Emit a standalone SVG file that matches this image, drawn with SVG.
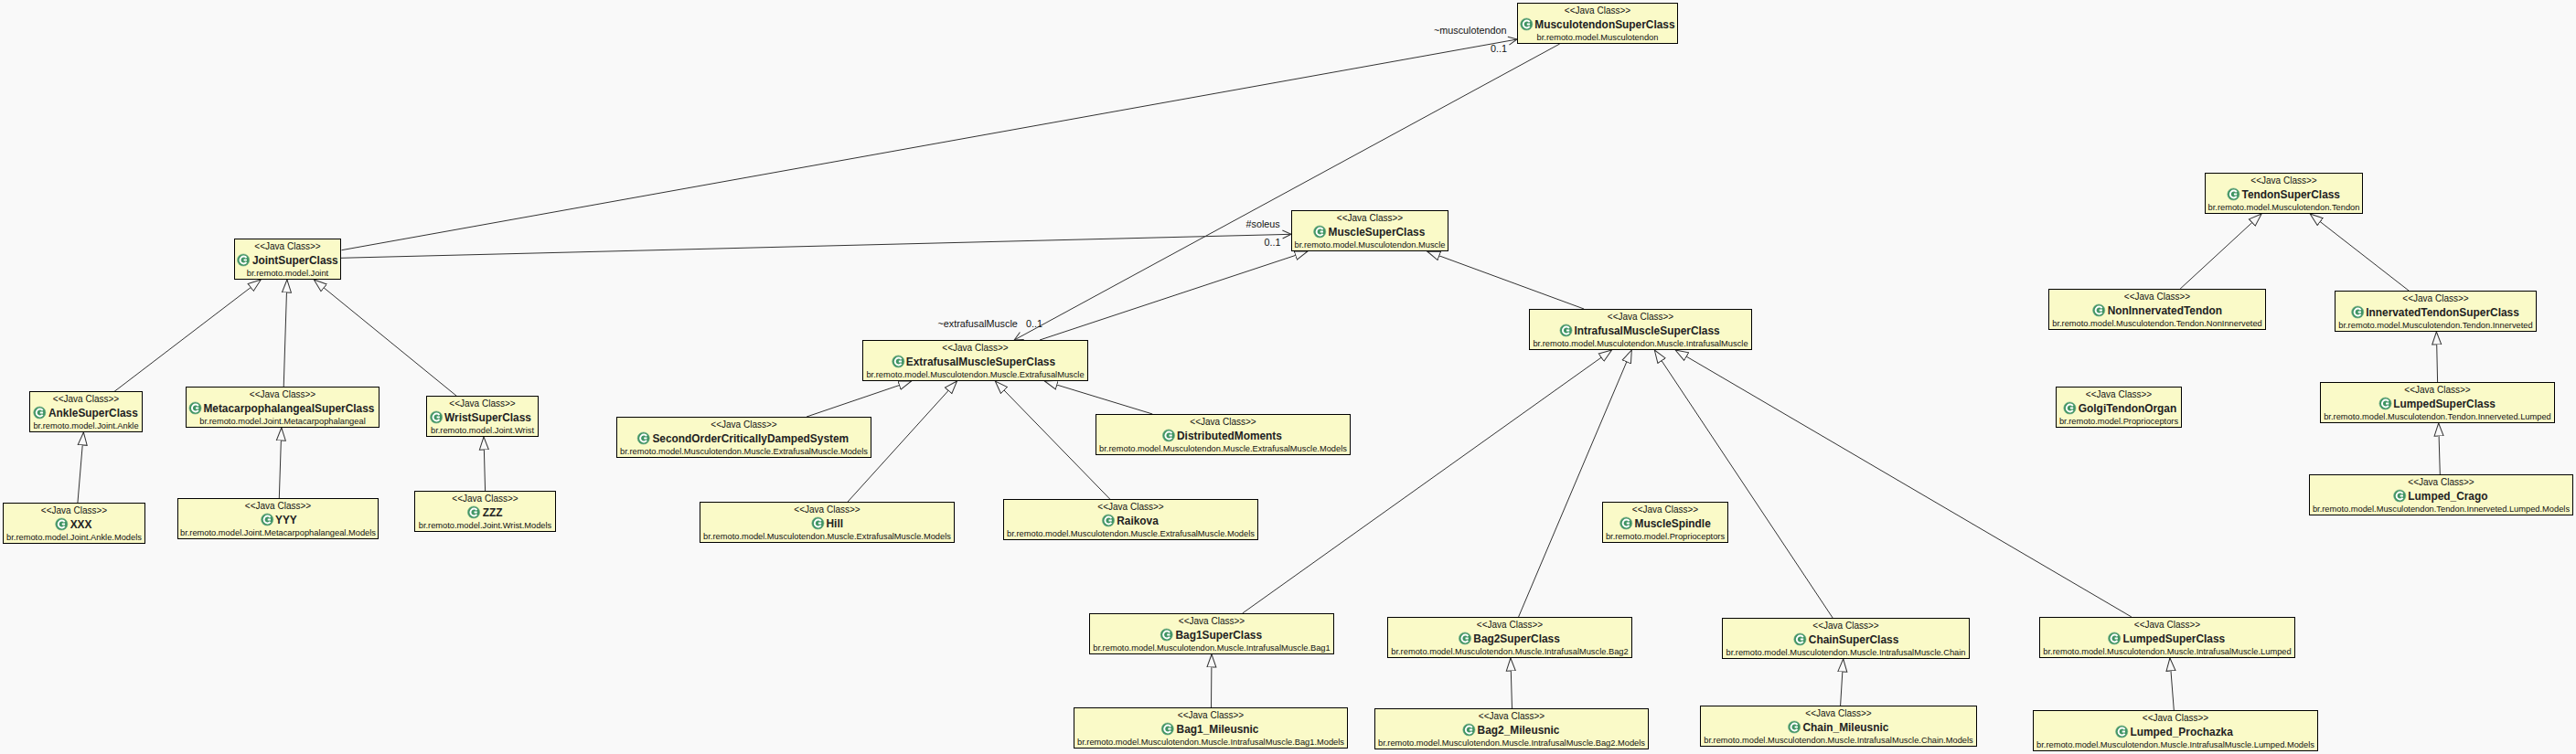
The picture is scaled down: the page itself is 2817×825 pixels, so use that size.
<svg xmlns="http://www.w3.org/2000/svg" width="2817" height="825" viewBox="0 0 2817 825">
<style>
.b{fill:#fafac8;stroke:#000;stroke-width:1}
.s,.p,.l{font-family:"Liberation Sans",Arial,sans-serif;fill:#111}
.s{font-size:10px;text-anchor:middle}
.p{font-size:9.3px;text-anchor:middle}
.n{font-family:"Liberation Sans",Arial,sans-serif;font-size:11.9px;font-weight:bold;fill:#222}
.l{font-size:10.8px}
.g{fill:none;stroke:#333;stroke-width:1;marker-end:url(#tri)}
.a{fill:none;stroke:#333;stroke-width:1;marker-end:url(#open)}
</style>
<defs>
<marker id="tri" markerUnits="userSpaceOnUse" markerWidth="16" markerHeight="14" refX="14.5" refY="6" orient="auto"><path d="M14.5 6L.5 1V11Z" fill="#f9f9f9" stroke="#333" stroke-width="1"/></marker>
<marker id="open" markerUnits="userSpaceOnUse" markerWidth="12" markerHeight="12" refX="10" refY="6" orient="auto"><path d="M.5 1.5L10 6L.5 10.5" fill="none" stroke="#333" stroke-width="1"/></marker>
<g id="ic"><circle r="6.6" fill="#3f9463" stroke="#79ae8c" stroke-width=".6"/><path d="M3.4-2.4A3.9 3.9 0 1 0 3.4 2.4M.5 0H3.8" fill="none" stroke="#fff" stroke-width="2"/></g>
</defs>
<rect width="2817" height="825" fill="#f9f9f9"/>
<g id="connectors">
<path class="a" d="M373.5 273.7L1659 43"/>
<path class="a" d="M372.7 282.3L1412 256.3"/>
<path class="a" d="M1705.7 48L1109.2 372"/>
<path class="g" d="M1137 372L1430 275"/>
<path class="g" d="M124.9 428.5L285.3 306"/>
<path class="g" d="M310.2 423.5L313.9 306"/>
<path class="g" d="M499.6 433.5L343.3 306"/>
<path class="g" d="M84.9 550.5L91.4 473"/>
<path class="g" d="M305.3 545.5L307.8 468"/>
<path class="g" d="M530.6 537.5L529 478"/>
<path class="g" d="M882.1 456L996.7 417"/>
<path class="g" d="M926.6 549.5L1046.5 417"/>
<path class="g" d="M1214.2 546.5L1088.3 417"/>
<path class="g" d="M1260.3 453L1142.4 417"/>
<path class="g" d="M1732.1 338L1560.7 275"/>
<path class="g" d="M1358.7 671L1762.5 383"/>
<path class="g" d="M1660.6 675L1784.3 383"/>
<path class="g" d="M2004.1 676L1809.3 383"/>
<path class="g" d="M2330.9 675L1832.1 383"/>
<path class="g" d="M1324.5 774L1325 716"/>
<path class="g" d="M1653.5 775L1651.9 720"/>
<path class="g" d="M2012.6 772L2015.7 721"/>
<path class="g" d="M2377.3 777L2372.9 720"/>
<path class="g" d="M2384.2 316L2473.1 234"/>
<path class="g" d="M2634.1 318L2526.2 234"/>
<path class="g" d="M2665.6 418L2664.4 363"/>
<path class="g" d="M2668.3 519L2666.7 463"/>
<text class="l" x="1568" y="37">~musculotendon</text>
<text class="l" x="1630" y="57">0..1</text>
<text class="l" x="1362.5" y="249">#soleus</text>
<text class="l" x="1382.5" y="269">0..1</text>
<text class="l" x="1025.5" y="358">~extrafusalMuscle</text>
<text class="l" x="1122" y="358">0..1</text>
</g>
<g id="MusculotendonSuperClass" transform="translate(1659.5 3.5)"><rect class="b" width="175" height="44"/><text class="s" x="87.5" y="11">&lt;&lt;Java Class&gt;&gt;</text><use href="#ic" x="9.8" y="23"/><text class="n" x="18.8" y="27">MusculotendonSuperClass</text><text class="p" x="87.5" y="40">br.remoto.model.Musculotendon</text></g>
<g id="MuscleSuperClass" transform="translate(1412.5 230.5)"><rect class="b" width="171" height="44"/><text class="s" x="85.5" y="11">&lt;&lt;Java Class&gt;&gt;</text><use href="#ic" x="30.7" y="23"/><text class="n" x="40" y="27">MuscleSuperClass</text><text class="p" x="85.5" y="40">br.remoto.model.Musculotendon.Muscle</text></g>
<g id="JointSuperClass" transform="translate(256.5 261.5)"><rect class="b" width="116" height="44"/><text class="s" x="58" y="11">&lt;&lt;Java Class&gt;&gt;</text><use href="#ic" x="9.6" y="23"/><text class="n" x="19.4" y="27">JointSuperClass</text><text class="p" x="58" y="40">br.remoto.model.Joint</text></g>
<g id="AnkleSuperClass" transform="translate(32.5 428.5)"><rect class="b" width="123" height="44"/><text class="s" x="61.5" y="11">&lt;&lt;Java Class&gt;&gt;</text><use href="#ic" x="10.8" y="23"/><text class="n" x="20.5" y="27">AnkleSuperClass</text><text class="p" x="61.5" y="40">br.remoto.model.Joint.Ankle</text></g>
<g id="MetacarpophalangealSuperClass" transform="translate(203.5 423.5)"><rect class="b" width="211" height="44"/><text class="s" x="105.5" y="11">&lt;&lt;Java Class&gt;&gt;</text><use href="#ic" x="10" y="23"/><text class="n" x="18.9" y="27">MetacarpophalangealSuperClass</text><text class="p" x="105.5" y="40">br.remoto.model.Joint.Metacarpophalangeal</text></g>
<g id="WristSuperClass" transform="translate(466.5 433.5)"><rect class="b" width="122" height="44"/><text class="s" x="61" y="11">&lt;&lt;Java Class&gt;&gt;</text><use href="#ic" x="10.6" y="23"/><text class="n" x="19.5" y="27">WristSuperClass</text><text class="p" x="61" y="40">br.remoto.model.Joint.Wrist</text></g>
<g id="XXX" transform="translate(3.5 550.5)"><rect class="b" width="155" height="44"/><text class="s" x="77.5" y="11">&lt;&lt;Java Class&gt;&gt;</text><use href="#ic" x="63.8" y="23"/><text class="n" x="73.2" y="27">XXX</text><text class="p" x="77.5" y="40">br.remoto.model.Joint.Ankle.Models</text></g>
<g id="YYY" transform="translate(194.5 545.5)"><rect class="b" width="219" height="44"/><text class="s" x="109.5" y="11">&lt;&lt;Java Class&gt;&gt;</text><use href="#ic" x="97.7" y="23"/><text class="n" x="106.5" y="27">YYY</text><text class="p" x="109.5" y="40">br.remoto.model.Joint.Metacarpophalangeal.Models</text></g>
<g id="ZZZ" transform="translate(453.5 537.5)"><rect class="b" width="154" height="44"/><text class="s" x="77" y="11">&lt;&lt;Java Class&gt;&gt;</text><use href="#ic" x="64.5" y="23"/><text class="n" x="74.3" y="27">ZZZ</text><text class="p" x="77" y="40">br.remoto.model.Joint.Wrist.Models</text></g>
<g id="ExtrafusalMuscleSuperClass" transform="translate(943.5 372.5)"><rect class="b" width="246" height="44"/><text class="s" x="123" y="11">&lt;&lt;Java Class&gt;&gt;</text><use href="#ic" x="38.8" y="23"/><text class="n" x="47.3" y="27">ExtrafusalMuscleSuperClass</text><text class="p" x="123" y="40">br.remoto.model.Musculotendon.Muscle.ExtrafusalMuscle</text></g>
<g id="SecondOrderCriticallyDampedSystem" transform="translate(674.5 456.5)"><rect class="b" width="278" height="44"/><text class="s" x="139" y="11">&lt;&lt;Java Class&gt;&gt;</text><use href="#ic" x="29.2" y="23"/><text class="n" x="38.9" y="27">SecondOrderCriticallyDampedSystem</text><text class="p" x="139" y="40">br.remoto.model.Musculotendon.Muscle.ExtrafusalMuscle.Models</text></g>
<g id="Hill" transform="translate(765.5 549.5)"><rect class="b" width="278" height="44"/><text class="s" x="139" y="11">&lt;&lt;Java Class&gt;&gt;</text><use href="#ic" x="128.9" y="23"/><text class="n" x="138" y="27">Hill</text><text class="p" x="139" y="40">br.remoto.model.Musculotendon.Muscle.ExtrafusalMuscle.Models</text></g>
<g id="Raikova" transform="translate(1097.5 546.5)"><rect class="b" width="278" height="44"/><text class="s" x="139" y="11">&lt;&lt;Java Class&gt;&gt;</text><use href="#ic" x="114.5" y="23"/><text class="n" x="123.7" y="27">Raikova</text><text class="p" x="139" y="40">br.remoto.model.Musculotendon.Muscle.ExtrafusalMuscle.Models</text></g>
<g id="DistributedMoments" transform="translate(1198.5 453.5)"><rect class="b" width="278" height="44"/><text class="s" x="139" y="11">&lt;&lt;Java Class&gt;&gt;</text><use href="#ic" x="79.5" y="23"/><text class="n" x="88.5" y="27">DistributedMoments</text><text class="p" x="139" y="40">br.remoto.model.Musculotendon.Muscle.ExtrafusalMuscle.Models</text></g>
<g id="IntrafusalMuscleSuperClass" transform="translate(1672.5 338.5)"><rect class="b" width="243" height="44"/><text class="s" x="121.5" y="11">&lt;&lt;Java Class&gt;&gt;</text><use href="#ic" x="40" y="23"/><text class="n" x="48.9" y="27">IntrafusalMuscleSuperClass</text><text class="p" x="121.5" y="40">br.remoto.model.Musculotendon.Muscle.IntrafusalMuscle</text></g>
<g id="MuscleSpindle" transform="translate(1752.5 549.5)"><rect class="b" width="137" height="44"/><text class="s" x="68.5" y="11">&lt;&lt;Java Class&gt;&gt;</text><use href="#ic" x="25.7" y="23"/><text class="n" x="35" y="27">MuscleSpindle</text><text class="p" x="68.5" y="40">br.remoto.model.Proprioceptors</text></g>
<g id="Bag1SuperClass" transform="translate(1191.5 671.5)"><rect class="b" width="267" height="44"/><text class="s" x="133.5" y="11">&lt;&lt;Java Class&gt;&gt;</text><use href="#ic" x="84.2" y="23"/><text class="n" x="94" y="27">Bag1SuperClass</text><text class="p" x="133.5" y="40">br.remoto.model.Musculotendon.Muscle.IntrafusalMuscle.Bag1</text></g>
<g id="Bag2SuperClass" transform="translate(1517.5 675.5)"><rect class="b" width="267" height="44"/><text class="s" x="133.5" y="11">&lt;&lt;Java Class&gt;&gt;</text><use href="#ic" x="84.5" y="23"/><text class="n" x="93.8" y="27">Bag2SuperClass</text><text class="p" x="133.5" y="40">br.remoto.model.Musculotendon.Muscle.IntrafusalMuscle.Bag2</text></g>
<g id="Bag1_Mileusnic" transform="translate(1174.5 774.5)"><rect class="b" width="299" height="44"/><text class="s" x="149.5" y="11">&lt;&lt;Java Class&gt;&gt;</text><use href="#ic" x="102.3" y="23"/><text class="n" x="112.1" y="27">Bag1_Mileusnic</text><text class="p" x="149.5" y="40">br.remoto.model.Musculotendon.Muscle.IntrafusalMuscle.Bag1.Models</text></g>
<g id="Bag2_Mileusnic" transform="translate(1503.5 775.5)"><rect class="b" width="299" height="44"/><text class="s" x="149.5" y="11">&lt;&lt;Java Class&gt;&gt;</text><use href="#ic" x="102.9" y="23"/><text class="n" x="112.1" y="27">Bag2_Mileusnic</text><text class="p" x="149.5" y="40">br.remoto.model.Musculotendon.Muscle.IntrafusalMuscle.Bag2.Models</text></g>
<g id="ChainSuperClass" transform="translate(1883.5 676.5)"><rect class="b" width="270" height="44"/><text class="s" x="135" y="11">&lt;&lt;Java Class&gt;&gt;</text><use href="#ic" x="84.9" y="23"/><text class="n" x="94.3" y="27">ChainSuperClass</text><text class="p" x="135" y="40">br.remoto.model.Musculotendon.Muscle.IntrafusalMuscle.Chain</text></g>
<g id="Chain_Mileusnic" transform="translate(1859.5 772.5)"><rect class="b" width="302" height="44"/><text class="s" x="151" y="11">&lt;&lt;Java Class&gt;&gt;</text><use href="#ic" x="102.6" y="23"/><text class="n" x="112" y="27">Chain_Mileusnic</text><text class="p" x="151" y="40">br.remoto.model.Musculotendon.Muscle.IntrafusalMuscle.Chain.Models</text></g>
<g id="LumpedSuperClass_Muscle" transform="translate(2230.5 675.5)"><rect class="b" width="279" height="44"/><text class="s" x="139.5" y="11">&lt;&lt;Java Class&gt;&gt;</text><use href="#ic" x="81.6" y="23"/><text class="n" x="91" y="27">LumpedSuperClass</text><text class="p" x="139.5" y="40">br.remoto.model.Musculotendon.Muscle.IntrafusalMuscle.Lumped</text></g>
<g id="Lumped_Prochazka" transform="translate(2223.5 777.5)"><rect class="b" width="311" height="44"/><text class="s" x="155.5" y="11">&lt;&lt;Java Class&gt;&gt;</text><use href="#ic" x="96.7" y="23"/><text class="n" x="106" y="27">Lumped_Prochazka</text><text class="p" x="155.5" y="40">br.remoto.model.Musculotendon.Muscle.IntrafusalMuscle.Lumped.Models</text></g>
<g id="TendonSuperClass" transform="translate(2411.5 189.5)"><rect class="b" width="172" height="44"/><text class="s" x="86" y="11">&lt;&lt;Java Class&gt;&gt;</text><use href="#ic" x="30.9" y="23"/><text class="n" x="40" y="27">TendonSuperClass</text><text class="p" x="86" y="40">br.remoto.model.Musculotendon.Tendon</text></g>
<g id="NonInnervatedTendon" transform="translate(2240.5 316.5)"><rect class="b" width="237" height="44"/><text class="s" x="118.5" y="11">&lt;&lt;Java Class&gt;&gt;</text><use href="#ic" x="54.7" y="23"/><text class="n" x="64.2" y="27">NonInnervatedTendon</text><text class="p" x="118.5" y="40">br.remoto.model.Musculotendon.Tendon.NonInnerveted</text></g>
<g id="InnervatedTendonSuperClass" transform="translate(2553.5 318.5)"><rect class="b" width="220" height="44"/><text class="s" x="110" y="11">&lt;&lt;Java Class&gt;&gt;</text><use href="#ic" x="24.7" y="23"/><text class="n" x="33.7" y="27">InnervatedTendonSuperClass</text><text class="p" x="110" y="40">br.remoto.model.Musculotendon.Tendon.Innerveted</text></g>
<g id="GolgiTendonOrgan" transform="translate(2248.5 423.5)"><rect class="b" width="137" height="44"/><text class="s" x="68.5" y="11">&lt;&lt;Java Class&gt;&gt;</text><use href="#ic" x="14.9" y="23"/><text class="n" x="24.3" y="27">GolgiTendonOrgan</text><text class="p" x="68.5" y="40">br.remoto.model.Proprioceptors</text></g>
<g id="LumpedSuperClass_Tendon" transform="translate(2537.5 418.5)"><rect class="b" width="256" height="44"/><text class="s" x="128" y="11">&lt;&lt;Java Class&gt;&gt;</text><use href="#ic" x="71" y="23"/><text class="n" x="79.7" y="27">LumpedSuperClass</text><text class="p" x="128" y="40">br.remoto.model.Musculotendon.Tendon.Innerveted.Lumped</text></g>
<g id="Lumped_Crago" transform="translate(2525.5 519.5)"><rect class="b" width="288" height="44"/><text class="s" x="144" y="11">&lt;&lt;Java Class&gt;&gt;</text><use href="#ic" x="98.7" y="23"/><text class="n" x="107.8" y="27">Lumped_Crago</text><text class="p" x="144" y="40">br.remoto.model.Musculotendon.Tendon.Innerveted.Lumped.Models</text></g>
</svg>
